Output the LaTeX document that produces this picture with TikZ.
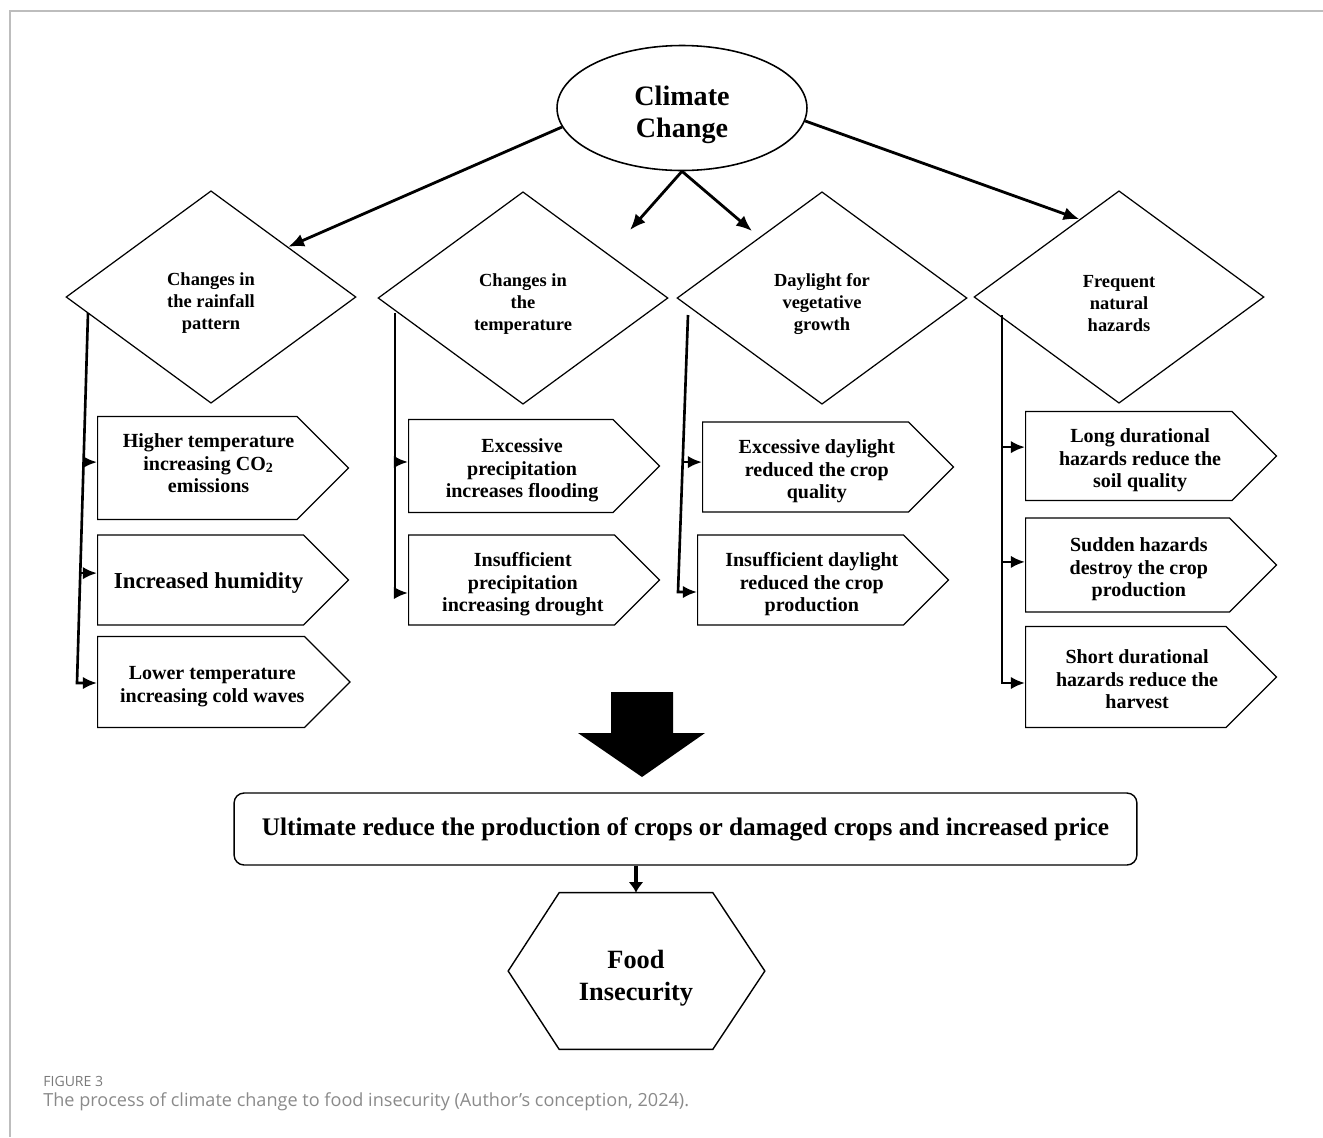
\documentclass[tikz,border=0pt]{standalone}
\usepackage{fontspec}
\setmainfont{Liberation Serif}
\newfontfamily\capfont{Open Sans}
\usepackage{tikz}
\usetikzlibrary{arrows.meta,positioning,shapes.geometric,shapes.symbols,calc}
\definecolor{framegray}{HTML}{BDBDBD}
\definecolor{capgray}{HTML}{8A8A8A}
\definecolor{figgray}{HTML}{7A7A7A}
% text of an effect box: pushed right of the pointer, and a little down
\NewDocumentCommand{\efftext}{O{0.45cm} O{-0.09cm} m}{\hspace*{#1}\raisebox{#2}[\height][\depth]{\begin{tabular}{@{}c@{}}#3\end{tabular}}}
\newcommand{\factorstrut}{\rule{0pt}{0.49cm}}

\begin{document}
\begin{tikzpicture}[
x=0.02cm, y=-0.02cm,
font=\bfseries,
cloud/.style={ellipse,draw,line width=0.9pt,minimum width=5cm,minimum height=2.5cm,inner sep=0pt,align=center,font=\bfseries\fontsize{16}{18.5}\selectfont},
factor/.style={diamond,draw,line width=0.7pt,minimum width=5.8cm,minimum height=4.25cm,inner sep=0pt,align=center,font=\bfseries\fontsize{10.5}{12.5}\selectfont},
effect/.style={signal,signal to=east,signal from=nowhere,signal pointer angle=90,draw,line width=0.7pt,anchor=west,minimum width=5.02cm,inner sep=0pt,font=\bfseries\fontsize{11.4}{13}\selectfont},
oneway/.style={-{Latex[length=9pt,width=7.5pt]},line width=1.6pt},
trunk/.style={-{Latex[length=8pt,width=7pt]},line width=1.5pt},
small/.style={-{Latex[length=6pt,width=8.5pt]},line width=2.3pt}]
    \useasboundingbox (0,0) rectangle (1323,1137);
    % Frame
    \draw[framegray,line width=1pt] (1323,11) -- (10,11) -- (10,1137);

    % Cause and its four factors
    \node[cloud] (cc) at (682,108) {\rule{0pt}{0.67cm}Climate\\Change};
    \node[factor] (D1) at (211,297) {\factorstrut Changes in\\the rainfall\\pattern};
    \node[factor] (D2) at (523,298) {\factorstrut Changes in\\the\\temperature};
    \node[factor] (D3) at (822,298) {\factorstrut Daylight for\\vegetative\\growth};
    \node[factor] (D4) at (1119,297) {\factorstrut Frequent\\natural\\hazards};

    \coordinate (t2) at (630,230);
    \coordinate (t3) at (752,231);
    \draw[oneway] (cc.189) -- (D1.33);
    \draw[oneway] (cc.south) -- (t2);
    \draw[oneway] (cc.south) -- (t3);
    \draw[oneway] (cc.354) -- (D4.117);

    % Effects
    \node[effect,minimum height=2.06cm] (E11) at (97,468) {\efftext[0.45cm][0.05cm]{Higher temperature\\increasing CO\textsubscript{2}\\emissions}};
    \node[effect,minimum height=1.8cm,font=\bfseries\fontsize{13}{15}\selectfont] (E12) at (97,580) {\efftext[0.32cm][-0.06cm]{Increased humidity}};
    \node[effect,minimum height=1.82cm] (E13) at (97,682) {\efftext{Lower temperature\\increasing cold waves}};
    \node[effect,minimum height=1.86cm] (E21) at (408,466) {\efftext{Excessive\\precipitation\\increases flooding}};
    \node[effect,minimum height=1.8cm] (E22) at (408,580) {\efftext{Insufficient\\precipitation\\increasing drought}};
    \node[effect,minimum height=1.8cm] (E31) at (702,467) {\efftext{Excessive daylight\\reduced the crop\\quality}};
    \node[effect,minimum height=1.8cm] (E32) at (697,580) {\efftext{Insufficient daylight\\reduced the crop\\production}};
    \node[effect,minimum height=1.78cm] (E41) at (1025,456) {\efftext{Long durational\\hazards reduce the\\soil quality}};
    \node[effect,minimum height=1.88cm] (E42) at (1025,565) {\efftext{Sudden hazards\\destroy the crop\\production}};
    \node[effect,minimum height=2.02cm] (E43) at (1025,677) {\efftext{Short durational\\hazards reduce the\\harvest}};

    % Trunks
    \coordinate (r1a) at (88,313);   \coordinate (r1b) at (77,683);
    \coordinate (r2a) at (395,313);  \coordinate (r2b) at (395,593);
    \coordinate (r3a) at (688,315);  \coordinate (r3b) at (678,592);
    \coordinate (r4a) at (1002,315); \coordinate (r4b) at (1002,683);
    \path (r1a) -- (r1b) coordinate[pos=0.403] (b11) coordinate[pos=0.703] (b12);
    \path (r2a) -- (r2b) coordinate[pos=0.532] (b21);
    \path (r3a) -- (r3b) coordinate[pos=0.531] (b31);
    \path (r4a) -- (r4b) coordinate[pos=0.359] (b41) coordinate[pos=0.671] (b42);

    \draw[trunk] (r1a) -- (r1b) -- (r1b -| E13.west);
    \draw[trunk] (b11) -- (b11 -| E11.west);
    \draw[trunk] (b12) -- (b12 -| E12.west);
    \draw[trunk] (r2a) -- (r2b) -- (r2b -| E22.west);
    \draw[trunk] (b21) -- (b21 -| E21.west);
    \draw[trunk] (r3a) -- (r3b) -- (r3b -| E32.west);
    \draw[trunk] (b31) -- (b31 -| E31.west);
    \draw[trunk] (r4a) -- (r4b) -- (r4b -| E43.west);
    \draw[trunk] (b41) -- (b41 -| E41.west);
    \draw[trunk] (b42) -- (b42 -| E42.west);

    % Big arrow
    \fill (611,692) -- (673,692) -- (673,733) -- (705,733) -- (642,777) -- (578,733) -- (611,733) -- cycle;

    % Result
    \node[draw,rounded corners=0.2cm,line width=0.8pt,minimum width=18.06cm,minimum height=1.44cm,font=\bfseries\fontsize{14.4}{16}\selectfont] (ult) at (685.5,829) {Ultimate reduce the production of crops or damaged crops and increased price};
    \node[minimum width=3.06cm,minimum height=3.12cm,inner sep=0pt,align=center,font=\bfseries\fontsize{15}{18}\selectfont] (food) at (636,971) {\rule{0pt}{0.65cm}Food\\Insecurity};
    \draw[line width=0.8pt] (food.north west) -- (food.north east) -- ([xshift=1.04cm]food.east) -- (food.south east) -- (food.south west) -- ([xshift=-1.02cm]food.west) -- cycle;
    \draw[small] (ult.south -| food.north) -- (food.north);

    % Caption
    \node[anchor=west,inner sep=0pt,text=figgray,font=\capfont\fontsize{8}{9}\selectfont] (fig) at (43,1081) {FIGURE 3};
    \node[anchor=west,inner sep=0pt,text=capgray,font=\capfont\fontsize{10.3}{12}\selectfont] (cap) at (43,1102) {The process of climate change to food insecurity (Author’s conception, 2024).};
\end{tikzpicture}
\end{document}
